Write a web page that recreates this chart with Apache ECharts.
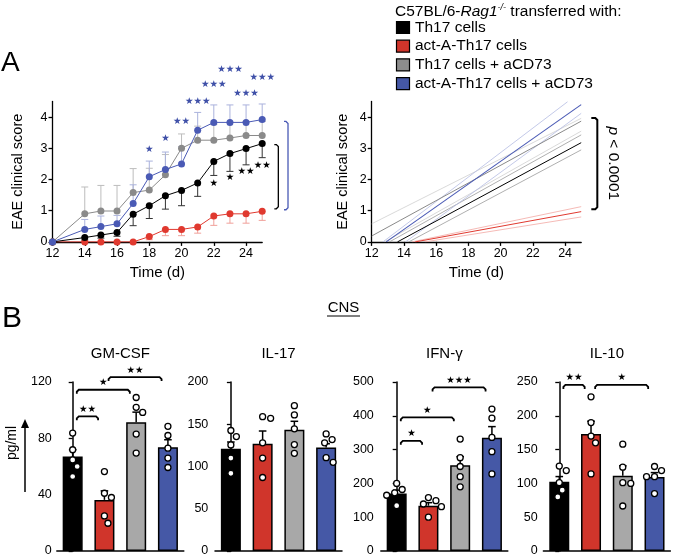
<!DOCTYPE html>
<html><head><meta charset="utf-8">
<script src="https://cdn.jsdelivr.net/npm/echarts@6.0.0/dist/echarts.min.js"></script>
<style>html,body{margin:0;padding:0;background:#fff;}#chart{width:677px;height:560px;}</style>
</head><body><div id="chart"></div>
<script>
// ================= DATA =================
const groupNames = ['Th17 cells', 'act-A-Th17 cells', 'Th17 cells + aCD73', 'act-A-Th17 cells + aCD73'];

// Panel A (left): EAE clinical score, mean and SEM per day
const days = [12, 14, 15, 16, 17, 18, 19, 20, 21, 22, 23, 24, 25];
const dayTicks = [12, 14, 16, 18, 20, 22, 24];
const scoreTicks = [0, 1, 2, 3, 4];
const scoreTh17       = [0, 0.14, 0.22, 0.30, 0.89, 1.16, 1.48, 1.65, 1.89, 2.58, 2.83, 2.99, 3.15];
const semTh17         = [0, 0.08, 0.10, 0.12, 0.37, 0.41, 0.43, 0.49, 0.43, 0.45, 0.57, 0.52, 0.45];
const scoreActA       = [0, 0, 0, 0, 0, 0.17, 0.40, 0.40, 0.48, 0.83, 0.90, 0.90, 0.98];
const semActA         = [0, 0, 0, 0, 0, 0.10, 0.20, 0.20, 0.20, 0.30, 0.30, 0.30, 0.29];
const scoreTh17CD73   = [0, 0.90, 0.99, 0.99, 1.58, 1.66, 2.15, 3.00, 3.26, 3.26, 3.33, 3.41, 3.41];
const semTh17CD73     = [0, 0.86, 0.82, 0.82, 0.77, 0.70, 0.65, 0.46, 0.45, 0.50, 0.50, 0.45, 0.45];
const scoreActACD73   = [0, 0.40, 0.49, 0.58, 1.23, 2.09, 2.32, 2.50, 3.58, 3.83, 3.83, 3.83, 3.92];
const semActACD73     = [0, 0.32, 0.34, 0.27, 0.60, 0.50, 0.56, 0.55, 0.57, 0.56, 0.56, 0.56, 0.50];

// significance marks (day, score level, label)
const starDaysBlue  = [18, 19, 20, 21, 22, 23, 24, 25];
const starLevelBlue = [2.97, 3.31, 3.87, 4.51, 5.03, 5.54, 4.76, 5.27];
const starTextBlue  = ['*', '*', '**', '***', '***', '***', '***', '***'];
const starDaysBlack  = [22, 23, 24, 25];
const starLevelBlack = [1.88, 2.06, 2.25, 2.46];
const starTextBlack  = ['*', '*', '**', '**'];
// brackets right of panel A (day, low score, high score)
const bracketA = [[26.0, 1.06, 3.12], [26.6, 1.03, 3.86]];

// Panel A (right): linear regression fits with confidence bands, [[x0,y0],[x1,y1]]
const fitTh17       = [[13.6, 0], [25, 3.18]];
const fitTh17Hi     = [[13.1, 0], [25, 3.43]];
const fitTh17Lo     = [[14.3, 0], [25, 2.95]];
const fitActA       = [[14.7, 0], [25, 0.97]];
const fitActAHi     = [[14.5, 0], [25, 1.13]];
const fitActALo     = [[15.3, 0], [25, 0.80]];
const fitTh17CD73   = [[12, 0.19], [25, 3.87]];
const fitTh17CD73Hi = [[12, 0.58], [25, 3.96]];
const fitTh17CD73Lo = [[12.8, 0], [25, 3.55]];
const fitActACD73   = [[12.9, 0], [25, 4.40]];
const fitActACD73Hi = [[12.7, 0], [24.15, 4.49]];
const fitActACD73Lo = [[14.1, 0], [25, 4.12]];
const bracketFit = [26.0, 1.05, 3.97];
const pValuePos = [27.0, 2.52];

// Panel B: cytokines in CNS (pg/ml)
const cytokines = ['GM-CSF', 'IL-17', 'IFN-γ', 'IL-10'];
const cytoMax = [120, 200, 500, 250];
const cytoInterval = [40, 50, 100, 50];
const gmcsfMean = [67.1, 36.3, 91.5, 73.7];
const gmcsfSem  = [4.8, 6.4, 7.1, 5.3];
const gmcsfDots = [[83.7, 71.9, 64.7, 60, 52.9], [56.4, 41, 38, 24.9, 19.7], [109, 102, 98.4, 83, 69.5], [88.5, 82, 73, 66, 59.3]];
const il17Mean = [121, 127, 143.5, 122.4];
const il17Sem  = [8, 15, 10, 4.5];
const il17Dots = [[142.6, 135.4, 125.5, 110, 91.9], [159, 157, 128, 110, 87], [172, 161, 144.6, 126, 115.6], [138.6, 131.9, 128, 110.5, 105]];
const ifngMean = [170, 134, 254, 335];
const ifngSem  = [10, 9, 25, 33];
const ifngDots = [[200, 182, 172, 165, 134], [158, 149, 139, 131, 100], [331, 276, 250, 220, 190], [420, 393, 336, 294, 228]];
const il10Mean = [102.6, 173, 111.4, 109.5];
const il10Sem  = [7.5, 19, 14.6, 6.5];
const il10Dots = [[125.7, 119, 101, 90, 80], [228, 190, 170, 160, 114], [158, 124, 101, 100, 66.6], [125, 119, 110, 110, 85]];
// brackets: [from group, to group, level, label]
const gmcsfSig = [[0, 1, 95.6, '**'], [0, 2, 114.5, '*'], [1, 3, 123.5, '**']];
const il17Sig  = [];
const ifngSig  = [[0, 1, 326, '*'], [0, 2, 395.5, '*'], [1, 3, 484, '***']];
const il10Sig  = [[0, 1, 245.6, '**'], [1, 3, 245.6, '*']];

// ================= STYLE / LAYOUT =================
const F = '"Liberation Sans", Arial, Helvetica, sans-serif';
const SF = '"DejaVu Sans", sans-serif';
const lineColors = ['#000000', '#e0392f', '#8a8a8a', '#4a5ab5'];
const errColors  = ['#333333', '#f0a09a', '#bdbdbd', '#aab2dc'];
const barColors  = ['#000000', '#d0352b', '#a8a8a8', '#4558a6'];
const legendColors = ['#000000', '#d0352b', '#8c8c8c', '#4558a6'];
const errDir = [-1, -1, 1, 1];
const scores = [scoreTh17, scoreActA, scoreTh17CD73, scoreActACD73];
const sems = [semTh17, semActA, semTh17CD73, semActACD73];

const gridTL = {left: 52.5, top: 101.5, width: 209.7, height: 140.4};
const gridTR = {left: 371.7, top: 101.5, width: 209.5, height: 140.4};
const barLeft = [56.8, 215, 380.8, 543.4];
const barAxisOffset = [0, 1.7, 2, 0.8];
const barTop = 382, barH = 169, barW = 127;

const means = [gmcsfMean, il17Mean, ifngMean, il10Mean];
const semsB = [gmcsfSem, il17Sem, ifngSem, il10Sem];
const dotsB = [gmcsfDots, il17Dots, ifngDots, il10Dots];
const sigB = [gmcsfSig, il17Sig, ifngSig, il10Sig];

function txtStyle(o) {
  const s = Object.assign({}, o);
  if (s.align) s.textAlign = s.align;
  if (s.verticalAlign) s.textVerticalAlign = s.verticalAlign;
  return s;
}

function errRender(color, dir, capHalf, lw) {
  return function (params, api) {
    const x = api.value(0), m = api.value(1), s = api.value(2);
    if (!(s > 0)) return;
    const a = api.coord([x, m]), b = api.coord([x, m + dir * s]);
    return {type: 'group', children: [
      {type: 'line', shape: {x1: a[0], y1: a[1], x2: b[0], y2: b[1]}, style: {stroke: color, lineWidth: lw}},
      {type: 'line', shape: {x1: b[0] - capHalf, y1: b[1], x2: b[0] + capHalf, y2: b[1]}, style: {stroke: color, lineWidth: lw}}
    ]};
  };
}
function starRender(texts, color, size) {
  return function (params, api) {
    const p = api.coord([api.value(0), api.value(1)]);
    return {type: 'text', x: p[0], y: p[1], style: txtStyle({
      text: texts[params.dataIndex].replace(/\*/g, '★'), fill: color,
      font: size + 'px ' + SF, align: 'center', verticalAlign: 'middle'})};
  };
}
function vBracketRender(list, colors, w, lw) {
  return function (params, api) {
    const b = list[params.dataIndex];
    const t = api.coord([b[0], b[2]]), d = api.coord([b[0], b[1]]);
    const r = 2;
    return {type: 'polyline', shape: {points: [[t[0] - w, t[1]], [t[0] - r, t[1]], [t[0], t[1] + r], [d[0], d[1] - r], [d[0] - r, d[1]], [d[0] - w, d[1]]]},
      style: {stroke: colors[params.dataIndex], lineWidth: lw, fill: 'none'}};
  };
}
function swarm(pts, d) {
  const order = pts.map((_, i) => i).sort((a, b) => pts[a][1] - pts[b][1]);
  const placed = [];
  order.forEach(i => {
    const cx = pts[i][0], cy = pts[i][1];
    let best = null;
    for (let k = 0; k < 80 && best === null; k++) {
      const off = (k % 2 ? 1 : -1) * Math.ceil(k / 2) * 0.5;
      const x = cx + off;
      if (placed.every(q => Math.hypot(q[0] - x, q[1] - cy) >= d)) best = [x, cy];
    }
    placed.push(best || [cx, cy]);
  });
  return placed;
}
function dotsRender(dots) {
  return function (params, api) {
    const i = params.dataIndex;
    const pts = dots[i].map(v => api.coord([i, v]));
    const pos = swarm(pts, 8);
    return {type: 'group', children: pos.map(p => ({type: 'circle', shape: {cx: p[0], cy: p[1], r: 3},
      style: {fill: '#ffffff', stroke: '#000000', lineWidth: 1.3}}))};
  };
}
function hBracketRender(list) {
  return function (params, api) {
    const b = list[params.dataIndex];
    const a = api.coord([b[0] + 0.13, b[2]]), c = api.coord([b[1] - 0.2, b[2]]);
    const drop = 4, r = 2;
    const y = a[1];
    return {type: 'group', children: [
      {type: 'polyline', shape: {points: [[a[0], y + drop], [a[0], y + r], [a[0] + r, y], [c[0] - r, y], [c[0], y + r], [c[0], y + drop]]},
        style: {stroke: '#000', lineWidth: 1.8, fill: 'none'}},
      {type: 'text', x: (a[0] + c[0]) / 2, y: y - 7, style: txtStyle({text: b[3].replace(/\*/g, '★'), fill: '#000',
        font: '9.5px ' + SF, align: 'center', verticalAlign: 'middle'})}
    ]};
  };
}

const axisLineS = {show: true, lineStyle: {color: '#000', width: 1.3}};
const axisTickS = (vals) => ({show: true, length: 4, inside: false, lineStyle: {color: '#000', width: 1.3}, customValues: vals});
const labelS = (vals) => ({color: '#000', fontFamily: F, fontSize: 12.5, margin: 5, customValues: vals});

const grids = [Object.assign({outerBoundsMode: 'none', containLabel: false}, gridTL), Object.assign({outerBoundsMode: 'none', containLabel: false}, gridTR)];
const xAxes = [], yAxes = [], series = [];

// top panels axes
[0, 1].forEach(g => {
  xAxes.push({type: 'value', gridIndex: g, min: 12, max: 25, interval: 2, splitLine: {show: false},
    axisLine: axisLineS, axisTick: axisTickS(dayTicks), axisLabel: labelS(dayTicks),
    name: 'Time (d)', nameLocation: 'middle', nameGap: 23,
    nameTextStyle: {color: '#000', fontFamily: F, fontSize: 15, verticalAlign: 'top'}});
  yAxes.push({type: 'value', gridIndex: g, min: 0, max: 4.5, interval: 1, splitLine: {show: false},
    axisLine: axisLineS, axisTick: axisTickS(scoreTicks), axisLabel: labelS(scoreTicks),
    name: 'EAE clinical score', nameLocation: 'middle', nameGap: g === 0 ? 27 : 21,
    nameTextStyle: {color: '#000', fontFamily: F, fontSize: 14.5}});
});

// ---- top-left series ----
[0, 1, 2, 3].forEach(g => {
  series.push({type: 'custom', xAxisIndex: 0, yAxisIndex: 0, clip: false, z: 1, silent: true,
    data: days.map((d, i) => [d, scores[g][i], sems[g][i]]),
    renderItem: errRender(errColors[g], errDir[g], 3.5, 1)});
});
[1, 0, 2, 3].forEach(g => {
  series.push({type: 'line', name: groupNames[g], xAxisIndex: 0, yAxisIndex: 0, z: 3,
    data: days.map((d, i) => [d, scores[g][i]]), symbol: 'circle', symbolSize: 7, showSymbol: true,
    lineStyle: {color: lineColors[g], width: 1}, itemStyle: {color: lineColors[g], borderWidth: 0}, silent: true});
});
series.push({type: 'custom', xAxisIndex: 0, yAxisIndex: 0, clip: false, z: 4, silent: true,
  data: starDaysBlue.map((d, i) => [d, starLevelBlue[i]]), renderItem: starRender(starTextBlue, '#3f50a8', 9.5)});
series.push({type: 'custom', xAxisIndex: 0, yAxisIndex: 0, clip: false, z: 4, silent: true,
  data: starDaysBlack.map((d, i) => [d, starLevelBlack[i]]), renderItem: starRender(starTextBlack, '#000', 9.5)});
series.push({type: 'custom', xAxisIndex: 0, yAxisIndex: 0, clip: false, z: 4, silent: true,
  data: bracketA.map(b => [b[0], b[1]]), renderItem: vBracketRender(bracketA, ['#000', '#4a5ab5'], 4, 1.3)});

// ---- top-right series ----
const fits = [
  [fitTh17CD73Hi, '#cfcfcf', 0.8], [fitTh17CD73Lo, '#cfcfcf', 0.8],
  [fitTh17Hi, '#9a9a9a', 0.8], [fitTh17Lo, '#9a9a9a', 0.8],
  [fitActAHi, '#f2a8a3', 0.8], [fitActALo, '#f2a8a3', 0.8],
  [fitActACD73Hi, '#b4bbe2', 0.8], [fitActACD73Lo, '#b4bbe2', 0.8],
  [fitTh17CD73, '#8a8a8a', 1], [fitTh17, '#000000', 1], [fitActA, '#e0392f', 1], [fitActACD73, '#4a5ab5', 1.1]
];
fits.forEach(f => series.push({type: 'line', xAxisIndex: 1, yAxisIndex: 1, data: f[0], showSymbol: false, symbol: 'none',
  lineStyle: {color: f[1], width: f[2]}, silent: true, z: 2}));
series.push({type: 'custom', xAxisIndex: 1, yAxisIndex: 1, clip: false, z: 4, silent: true,
  data: [[bracketFit[0], bracketFit[1]]], renderItem: vBracketRender([bracketFit], ['#000'], 6, 2)});
series.push({type: 'custom', xAxisIndex: 1, yAxisIndex: 1, clip: false, z: 4, silent: true,
  data: [pValuePos], renderItem: function (params, api) {
    const p = api.coord([api.value(0), api.value(1)]);
    return {type: 'text', x: p[0], y: p[1], rotation: -Math.PI / 2, style: txtStyle({
      text: '{i|p}{n| < 0.0001}', align: 'center', verticalAlign: 'middle',
      rich: {i: {font: 'italic 15.5px ' + F, fill: '#000'}, n: {font: '15.5px ' + F, fill: '#000'}}})};
  }});

// ---- bar panels ----
const titles = [];
for (let k = 0; k < 4; k++) {
  const gi = 2 + k;
  grids.push({left: barLeft[k], top: barTop, width: barW, height: barH, outerBoundsMode: 'none', containLabel: false});
  const catIdx = xAxes.length;
  xAxes.push({type: 'category', gridIndex: gi, data: groupNames, boundaryGap: true,
    axisLine: {show: true, lineStyle: {color: '#000', width: 1.5}}, axisTick: {show: false}, axisLabel: {show: false}, splitLine: {show: false}});
  const valIdx = xAxes.length;
  xAxes.push({type: 'value', gridIndex: gi, min: -0.5, max: 3.5, show: false, splitLine: {show: false}});
  const ticks = [];
  for (let v = 0; v <= cytoMax[k]; v += cytoInterval[k]) ticks.push(v);
  const yIdx = yAxes.length;
  yAxes.push({type: 'value', gridIndex: gi, min: 0, max: cytoMax[k], interval: cytoInterval[k], offset: barAxisOffset[k],
    splitLine: {show: false}, axisLine: {show: true, lineStyle: {color: '#000', width: 1.5}},
    axisTick: axisTickS(ticks), axisLabel: labelS(ticks)});
  series.push({type: 'bar', xAxisIndex: catIdx, yAxisIndex: yIdx, barWidth: 20, silent: true, z: 2,
    data: means[k].map((v, i) => ({value: v, itemStyle: {color: barColors[i]}})),
    itemStyle: {borderColor: '#000', borderWidth: 1.5}});
  series.push({type: 'custom', xAxisIndex: valIdx, yAxisIndex: yIdx, clip: false, z: 3, silent: true,
    data: means[k].map((v, i) => [i, v, semsB[k][i]]), renderItem: errRender('#000', 1, 3.8, 1.5)});
  series.push({type: 'custom', xAxisIndex: valIdx, yAxisIndex: yIdx, clip: false, z: 4, silent: true,
    data: means[k].map((v, i) => [i, v]), renderItem: dotsRender(dotsB[k])});
  if (sigB[k].length) series.push({type: 'custom', xAxisIndex: valIdx, yAxisIndex: yIdx, clip: false, z: 4, silent: true,
    data: sigB[k].map(b => [b[0], b[2]]), renderItem: hBracketRender(sigB[k])});
  titles.push({text: cytokines[k], left: barLeft[k] + barW / 2, top: 346, textAlign: 'center', padding: 0,
    textStyle: {color: '#000', fontFamily: F, fontSize: 15, fontWeight: 'normal'}});
}

// ---- graphics: panel letters, legend, labels ----
const graphic = [
  {type: 'text', left: 1, top: 49, style: txtStyle({text: 'A', font: '28px ' + F, fill: '#000'})},
  {type: 'text', left: 2, top: 304, style: txtStyle({text: 'B', font: '30px ' + F, fill: '#000'})},
  {type: 'text', x: 343.5, y: 308, style: txtStyle({text: 'CNS', font: '15px ' + F, fill: '#000', align: 'center', verticalAlign: 'middle'})},
  {type: 'line', shape: {x1: 327, y1: 316, x2: 360, y2: 316}, style: {stroke: '#000', lineWidth: 1}},
  {type: 'text', x: 395, y: 12, style: txtStyle({
    text: '{n|C57BL/6-}{i|Rag1}{s|-/-}{n| transferred with:}', verticalAlign: 'middle',
    rich: {n: {font: '15.5px ' + F, fill: '#000', lineHeight: 18}, i: {font: 'italic 15.5px ' + F, fill: '#000', lineHeight: 18},
      s: {font: 'italic 9px ' + F, fill: '#000', lineHeight: 10, verticalAlign: 'top'}}})},
  {type: 'text', x: 12, y: 443, rotation: Math.PI / 2, style: txtStyle({text: 'pg/ml', font: '14px ' + F, fill: '#000', align: 'center', verticalAlign: 'middle'})},
  {type: 'line', shape: {x1: 25, y1: 492, x2: 25, y2: 426}, style: {stroke: '#000', lineWidth: 1.5}},
  {type: 'polygon', shape: {points: [[25, 419], [21, 428], [29, 428]]}, style: {fill: '#000'}}
];
groupNames.forEach((n, i) => {
  const cy = 27.5 + i * 18.7;
  graphic.push({type: 'rect', shape: {x: 396.5, y: cy - 6, width: 13, height: 12}, style: {fill: legendColors[i], stroke: '#000', lineWidth: 1.2}});
  graphic.push({type: 'text', x: 415, y: cy, style: txtStyle({text: n, font: '15.5px ' + F, fill: '#000', verticalAlign: 'middle'})});
});
// fix pg/ml rotation to read bottom-to-top
graphic[5].rotation = Math.PI / 2;

const chart = echarts.init(document.getElementById('chart'), null, {renderer: 'canvas'});
chart.setOption({
  animation: false,
  backgroundColor: '#ffffff',
  textStyle: {fontFamily: F},
  title: titles,
  grid: grids,
  xAxis: xAxes,
  yAxis: yAxes,
  series: series,
  graphic: graphic
});
</script>
</body></html>
